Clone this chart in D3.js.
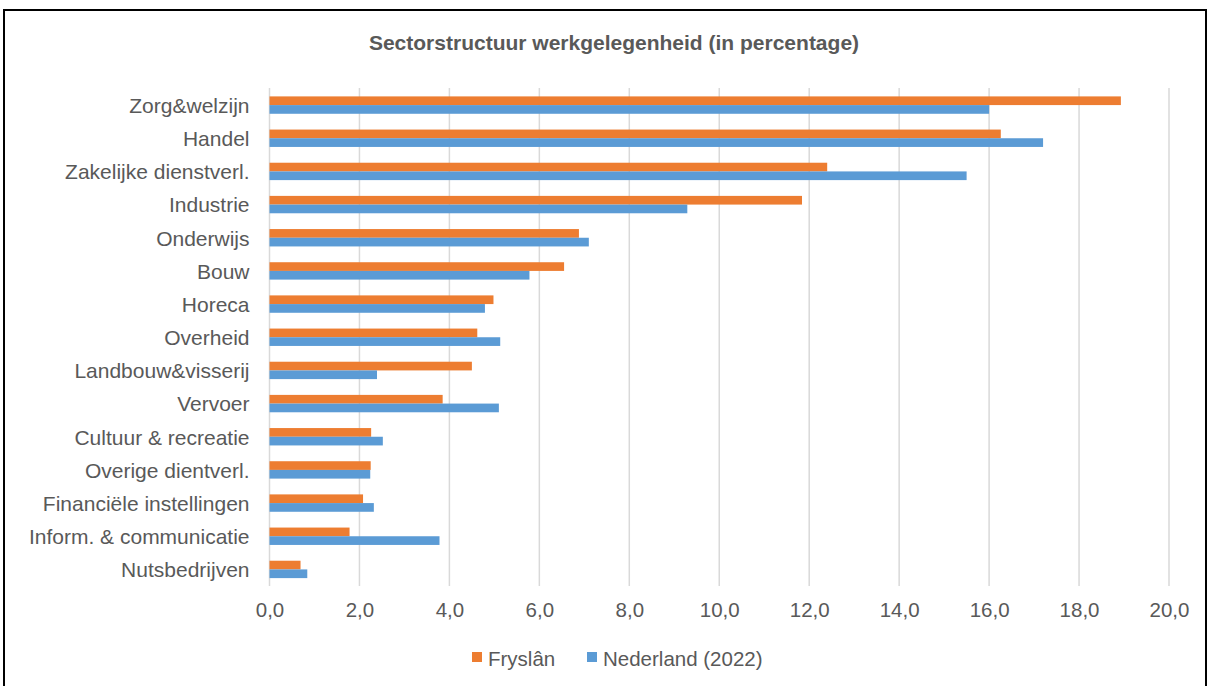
<!DOCTYPE html>
<html>
<head>
<meta charset="utf-8">
<script src="https://cdn.jsdelivr.net/npm/d3@7"></script>
<style>
html,body{margin:0;padding:0;background:#fff;}
svg{display:block;font-family:"Liberation Sans",Arial,sans-serif;}
</style>
</head>
<body>
<svg id="chart" width="1214" height="686"></svg>
<script>
const title = "Sectorstructuur werkgelegenheid (in percentage)";
const categories = ["Zorg&welzijn","Handel","Zakelijke dienstverl.","Industrie","Onderwijs","Bouw","Horeca","Overheid","Landbouw&visserij","Vervoer","Cultuur & recreatie","Overige dientverl.","Financiële instellingen","Inform. & communicatie","Nutsbedrijven"];
const seriesNames = ["Fryslân","Nederland (2022)"];
const fryslan = [18.93,16.26,12.4,11.84,6.88,6.55,4.98,4.62,4.5,3.85,2.26,2.25,2.08,1.78,0.69];
const nederland = [16.0,17.2,15.5,9.29,7.1,5.78,4.79,5.13,2.39,5.1,2.52,2.24,2.32,3.78,0.84];
const xTicks = [0,2,4,6,8,10,12,14,16,18,20];
const colors = ["#ED7D31","#5B9BD5"];

const svg = d3.select("#chart");
const textColor = "#595959";
const fs = 20.5;

// outer frame
svg.append("rect").attr("x",4).attr("y",10).attr("width",1202).attr("height",690)
  .attr("fill","none").attr("stroke","#000").attr("stroke-width",2);

svg.append("text").attr("x",614).attr("y",50).attr("text-anchor","middle")
  .attr("font-size",21).attr("font-weight","bold").attr("fill",textColor).text(title);

const x = d3.scaleLinear().domain([0,20]).range([269.5,1169]);
const y = d3.scaleBand().domain(categories).range([88.5,586]).paddingInner(0.476).paddingOuter(0.238);
const sub = d3.scaleBand().domain(seriesNames).range([0,y.bandwidth()]);

// gridlines
svg.append("g").selectAll("line").data(xTicks).join("line")
  .attr("x1",d=>x(d)).attr("x2",d=>x(d)).attr("y1",88).attr("y2",586)
  .attr("stroke","#d9d9d9").attr("stroke-width",1.5);

// x tick labels
const xAxis = d3.axisBottom(x).tickValues(xTicks).tickSize(0).tickPadding(0)
  .tickFormat(d=>d3.format(".1f")(d).replace(".",","));
const gx = svg.append("g").attr("transform","translate(0,0)").call(xAxis);
gx.select(".domain").remove();
gx.selectAll("text").attr("font-size",fs).attr("fill",textColor)
  .attr("font-family","Liberation Sans, Arial, sans-serif").attr("dy",null).attr("y",617);

// y axis labels
const yAxis = d3.axisLeft(y).tickSize(0).tickPadding(0);
const gy = svg.append("g").attr("transform","translate(249.5,0)").call(yAxis);
gy.select(".domain").remove();
gy.selectAll("text").attr("font-size",21).attr("fill",textColor)
  .attr("font-family","Liberation Sans, Arial, sans-serif").attr("dy","0.37em");

// bars
const series = [fryslan, nederland];
series.forEach((vals,si)=>{
  svg.append("g").selectAll("rect").data(categories).join("rect")
    .attr("x",x(0))
    .attr("y",(d)=>y(d)+sub(seriesNames[si]))
    .attr("width",(d,i)=>x(vals[i])-x(0))
    .attr("height",sub.bandwidth())
    .attr("fill",colors[si]);
});

// legend
const legendItems = [{name:seriesNames[0],x:472},{name:seriesNames[1],x:587}];
const lg = svg.append("g");
legendItems.forEach((it,i)=>{
  lg.append("rect").attr("x",it.x).attr("y",652).attr("width",10).attr("height",10).attr("fill",colors[i]);
  lg.append("text").attr("x",it.x+16).attr("y",666).attr("font-size",fs).attr("fill",textColor).text(it.name);
});
</script>
</body>
</html>
